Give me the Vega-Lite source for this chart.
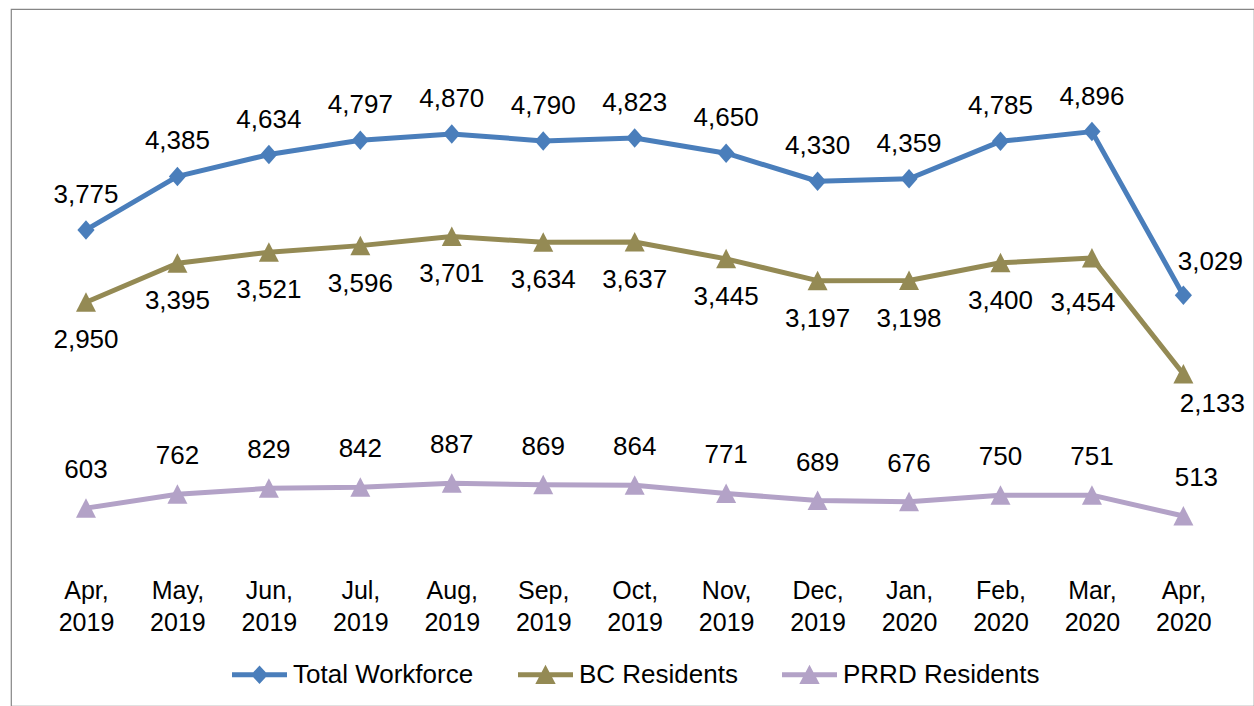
{
  "$schema": "https://vega.github.io/schema/vega-lite/v6.json",
  "autosize": "none",
  "padding": {"left": 11, "top": 9, "right": 0, "bottom": 0},
  "width": 1243,
  "height": 697,
  "title": {
    "text": "location\u2003—\u2002will vary month to month and also reflects the seasonal nature of construction work.",
    "anchor": "start",
    "frame": "group",
    "orient": "top",
    "baseline": "alphabetic",
    "offset": 0,
    "dy": 12,
    "dx": -19,
    "font": "Liberation Sans",
    "fontSize": 27,
    "fontWeight": "normal",
    "color": "#000000"
  },
  "config": {
    "view": {"stroke": "#868686", "strokeWidth": 1.2},
    "font": "Liberation Sans",
    "text": {"font": "Liberation Sans", "fontSize": 26, "color": "#000000"}
  },
  "data": {
    "values": [
      {"month": "Apr, 2019", "series": "Total Workforce", "value": 3775},
      {"month": "May, 2019", "series": "Total Workforce", "value": 4385},
      {"month": "Jun, 2019", "series": "Total Workforce", "value": 4634},
      {"month": "Jul, 2019", "series": "Total Workforce", "value": 4797},
      {"month": "Aug, 2019", "series": "Total Workforce", "value": 4870},
      {"month": "Sep, 2019", "series": "Total Workforce", "value": 4790},
      {"month": "Oct, 2019", "series": "Total Workforce", "value": 4823},
      {"month": "Nov, 2019", "series": "Total Workforce", "value": 4650},
      {"month": "Dec, 2019", "series": "Total Workforce", "value": 4330},
      {"month": "Jan, 2020", "series": "Total Workforce", "value": 4359},
      {"month": "Feb, 2020", "series": "Total Workforce", "value": 4785},
      {"month": "Mar, 2020", "series": "Total Workforce", "value": 4896},
      {"month": "Apr, 2020", "series": "Total Workforce", "value": 3029},
      {"month": "Apr, 2019", "series": "BC Residents", "value": 2950},
      {"month": "May, 2019", "series": "BC Residents", "value": 3395},
      {"month": "Jun, 2019", "series": "BC Residents", "value": 3521},
      {"month": "Jul, 2019", "series": "BC Residents", "value": 3596},
      {"month": "Aug, 2019", "series": "BC Residents", "value": 3701},
      {"month": "Sep, 2019", "series": "BC Residents", "value": 3634},
      {"month": "Oct, 2019", "series": "BC Residents", "value": 3637},
      {"month": "Nov, 2019", "series": "BC Residents", "value": 3445},
      {"month": "Dec, 2019", "series": "BC Residents", "value": 3197},
      {"month": "Jan, 2020", "series": "BC Residents", "value": 3198},
      {"month": "Feb, 2020", "series": "BC Residents", "value": 3400},
      {"month": "Mar, 2020", "series": "BC Residents", "value": 3454},
      {"month": "Apr, 2020", "series": "BC Residents", "value": 2133},
      {"month": "Apr, 2019", "series": "PRRD Residents", "value": 603},
      {"month": "May, 2019", "series": "PRRD Residents", "value": 762},
      {"month": "Jun, 2019", "series": "PRRD Residents", "value": 829},
      {"month": "Jul, 2019", "series": "PRRD Residents", "value": 842},
      {"month": "Aug, 2019", "series": "PRRD Residents", "value": 887},
      {"month": "Sep, 2019", "series": "PRRD Residents", "value": 869},
      {"month": "Oct, 2019", "series": "PRRD Residents", "value": 864},
      {"month": "Nov, 2019", "series": "PRRD Residents", "value": 771},
      {"month": "Dec, 2019", "series": "PRRD Residents", "value": 689},
      {"month": "Jan, 2020", "series": "PRRD Residents", "value": 676},
      {"month": "Feb, 2020", "series": "PRRD Residents", "value": 750},
      {"month": "Mar, 2020", "series": "PRRD Residents", "value": 751},
      {"month": "Apr, 2020", "series": "PRRD Residents", "value": 513}
    ]
  },
  "encoding": {
    "x": {
      "field": "month",
      "type": "ordinal",
      "sort": ["Apr, 2019", "May, 2019", "Jun, 2019", "Jul, 2019", "Aug, 2019", "Sep, 2019", "Oct, 2019", "Nov, 2019", "Dec, 2019", "Jan, 2020", "Feb, 2020", "Mar, 2020", "Apr, 2020"],
      "scale": {"type": "point", "padding": 0.796, "align": 0.515},
      "axis": {
        "title": null,
        "domain": false,
        "ticks": false,
        "tickSize": 0,
        "grid": false,
        "labelAngle": 0,
        "labelExpr": "split(datum.label, ' ')",
        "labelFont": "Liberation Sans",
        "labelFontSize": 25,
        "labelColor": "#000000",
        "labelLineHeight": 32.6,
        "labelBaseline": "top",
        "labelPadding": 0,
        "offset": -128
      }
    },
    "y": {
      "field": "value",
      "type": "quantitative",
      "scale": {"domain": [-1653, 6294], "nice": false, "zero": false},
      "axis": null
    },
    "color": {
      "field": "series",
      "type": "nominal",
      "sort": ["Total Workforce", "BC Residents", "PRRD Residents"],
      "scale": {
        "domain": ["Total Workforce", "BC Residents", "PRRD Residents"],
        "range": ["#4A7EBB", "#948A54", "#B3A2C7"]
      },
      "legend": {
        "title": null,
        "orient": "none",
        "direction": "horizontal",
        "legendX": 221,
        "legendY": 638,
        "padding": 0,
        "symbolSize": 3025,
        "symbolStrokeWidth": 0,
        "symbolType": "M-1,-0.09L1,-0.09L1,0.09L-1,0.09Z M0,-0.36L0.37,0.34L-0.37,0.34Z",
        "labelFont": "Liberation Sans",
        "labelFontSize": 26,
        "labelColor": "#000000",
        "labelOffset": 6,
        "labelLimit": 0,
        "columnPadding": 44,
        "encode": {
          "symbols": {
            "update": {
              "shape": {"signal": "datum.value === 'Total Workforce' ? 'M-1,-0.09L1,-0.09L1,0.09L-1,0.09Z M0,-0.34L0.31,0L0,0.34L-0.31,0Z' : 'M-1,-0.09L1,-0.09L1,0.09L-1,0.09Z M0,-0.36L0.37,0.34L-0.37,0.34Z'"},
              "fill": {"signal": "scale('color', datum.value)"},
              "fillOpacity": {"value": 1},
              "opacity": {"value": 1},
              "strokeWidth": {"value": 0}
            }
          }
        }
      }
    }
  },
  "layer": [
    {
      "mark": {"type": "line", "strokeWidth": 5, "strokeCap": "round", "strokeJoin": "round"}
    },
    {
      "transform": [{"filter": "datum.series === 'Total Workforce'"}],
      "mark": {"type": "point", "filled": true, "opacity": 1, "size": 380, "shape": "M0,-1L0.88,0L0,1L-0.88,0Z"}
    },
    {
      "transform": [{"filter": "datum.series !== 'Total Workforce'"}],
      "mark": {"type": "point", "filled": true, "opacity": 1, "size": 400, "shape": "M0,-1L1,0.95L-1,0.95Z"}
    },
    {
      "transform": [{"filter": "datum.series === 'Total Workforce' && datum.month !== 'Apr, 2020'"}],
      "mark": {"type": "text", "baseline": "middle", "dy": -35},
      "encoding": {"text": {"field": "value", "type": "quantitative", "format": ",d"}, "color": {"value": "#000000"}}
    },
    {
      "transform": [{"filter": "datum.series === 'Total Workforce' && datum.month === 'Apr, 2020'"}],
      "mark": {"type": "text", "baseline": "middle", "dy": -33, "dx": 27},
      "encoding": {"text": {"field": "value", "type": "quantitative", "format": ",d"}, "color": {"value": "#000000"}}
    },
    {
      "transform": [{"filter": "datum.series === 'BC Residents' && datum.month !== 'Apr, 2020' && datum.month !== 'Mar, 2020'"}],
      "mark": {"type": "text", "baseline": "middle", "dy": 38},
      "encoding": {"text": {"field": "value", "type": "quantitative", "format": ",d"}, "color": {"value": "#000000"}}
    },
    {
      "transform": [{"filter": "datum.series === 'BC Residents' && datum.month === 'Mar, 2020'"}],
      "mark": {"type": "text", "baseline": "middle", "dy": 45, "dx": -9},
      "encoding": {"text": {"field": "value", "type": "quantitative", "format": ",d"}, "color": {"value": "#000000"}}
    },
    {
      "transform": [{"filter": "datum.series === 'BC Residents' && datum.month === 'Apr, 2020'"}],
      "mark": {"type": "text", "baseline": "middle", "dy": 30, "dx": 29},
      "encoding": {"text": {"field": "value", "type": "quantitative", "format": ",d"}, "color": {"value": "#000000"}}
    },
    {
      "transform": [{"filter": "datum.series === 'PRRD Residents' && datum.month !== 'Apr, 2020'"}],
      "mark": {"type": "text", "baseline": "middle", "dy": -38},
      "encoding": {"text": {"field": "value", "type": "quantitative", "format": ",d"}, "color": {"value": "#000000"}}
    },
    {
      "transform": [{"filter": "datum.series === 'PRRD Residents' && datum.month === 'Apr, 2020'"}],
      "mark": {"type": "text", "baseline": "middle", "dy": -38, "dx": 13},
      "encoding": {"text": {"field": "value", "type": "quantitative", "format": ",d"}, "color": {"value": "#000000"}}
    }
  ]
}
